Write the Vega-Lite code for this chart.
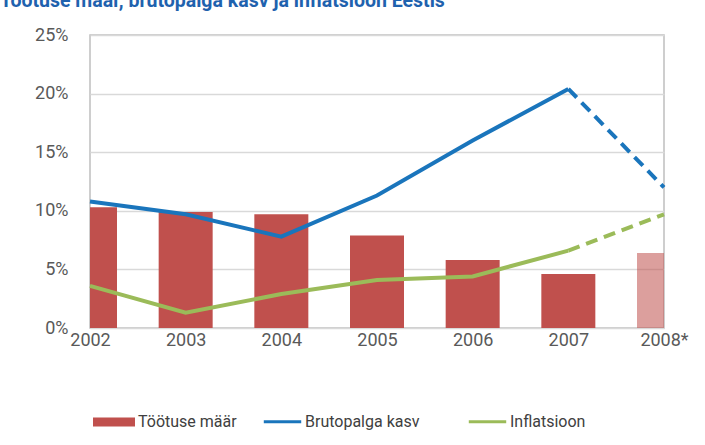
{
  "$schema": "https://vega.github.io/schema/vega-lite/v6.json",
  "autosize": {"type": "none"},
  "width": 574,
  "height": 293,
  "padding": {"left": 90, "top": 35, "right": 41, "bottom": 117},
  "background": "white",
  "title": {
    "text": "Töötuse määr, brutopalga kasv ja inflatsioon Eestis",
    "anchor": "start",
    "frame": "group",
    "dx": -90,
    "dy": 20,
    "offset": 20,
    "baseline": "alphabetic",
    "font": "Roboto",
    "fontSize": 19.5,
    "fontWeight": "bold",
    "color": "#1F62AE"
  },
  "data": {
    "values": [
      {"aasta": "2002", "naitaja": "Töötuse määr", "vaartus": 0.103},
      {"aasta": "2003", "naitaja": "Töötuse määr", "vaartus": 0.099},
      {"aasta": "2004", "naitaja": "Töötuse määr", "vaartus": 0.097},
      {"aasta": "2005", "naitaja": "Töötuse määr", "vaartus": 0.079},
      {"aasta": "2006", "naitaja": "Töötuse määr", "vaartus": 0.058},
      {"aasta": "2007", "naitaja": "Töötuse määr", "vaartus": 0.046},
      {"aasta": "2008*", "naitaja": "Töötuse määr", "vaartus": 0.064},
      {"aasta": "2002", "naitaja": "Brutopalga kasv", "vaartus": 0.108},
      {"aasta": "2003", "naitaja": "Brutopalga kasv", "vaartus": 0.097},
      {"aasta": "2004", "naitaja": "Brutopalga kasv", "vaartus": 0.078},
      {"aasta": "2005", "naitaja": "Brutopalga kasv", "vaartus": 0.113},
      {"aasta": "2006", "naitaja": "Brutopalga kasv", "vaartus": 0.16},
      {"aasta": "2007", "naitaja": "Brutopalga kasv", "vaartus": 0.204},
      {"aasta": "2008*", "naitaja": "Brutopalga kasv", "vaartus": 0.12},
      {"aasta": "2002", "naitaja": "Inflatsioon", "vaartus": 0.036},
      {"aasta": "2003", "naitaja": "Inflatsioon", "vaartus": 0.013},
      {"aasta": "2004", "naitaja": "Inflatsioon", "vaartus": 0.029},
      {"aasta": "2005", "naitaja": "Inflatsioon", "vaartus": 0.041},
      {"aasta": "2006", "naitaja": "Inflatsioon", "vaartus": 0.044},
      {"aasta": "2007", "naitaja": "Inflatsioon", "vaartus": 0.066},
      {"aasta": "2008*", "naitaja": "Inflatsioon", "vaartus": 0.097}
    ]
  },
  "encoding": {
    "x": {
      "field": "aasta",
      "type": "ordinal",
      "sort": ["2002", "2003", "2004", "2005", "2006", "2007", "2008*"],
      "scale": {"type": "point", "padding": 0},
      "axis": {
        "title": null,
        "labelAngle": 0,
        "ticks": false,
        "domain": false,
        "grid": false,
        "labelPadding": 3,
        "labelFont": "Roboto",
        "labelFontSize": 18,
        "labelColor": "#595959"
      }
    },
    "y": {
      "field": "vaartus",
      "type": "quantitative",
      "scale": {"domain": [0, 0.25], "nice": false},
      "axis": {
        "title": null,
        "values": [0, 0.05, 0.1, 0.15, 0.2, 0.25],
        "format": ".0%",
        "ticks": false,
        "domain": false,
        "grid": true,
        "gridColor": "#D9D9D9",
        "gridWidth": 1.5,
        "labelPadding": 22,
        "labelFont": "Roboto",
        "labelFontSize": 18,
        "labelColor": "#595959"
      }
    }
  },
  "layer": [
    {
      "transform": [{"filter": "datum.naitaja == 'Töötuse määr'"}],
      "mark": {"type": "bar", "width": 54, "clip": true},
      "encoding": {
        "fill": {
          "field": "naitaja",
          "type": "nominal",
          "scale": {"domain": ["Töötuse määr"], "range": ["#C0504D"]},
          "legend": {
            "title": null,
            "orient": "none",
            "legendX": 3,
            "legendY": 366,
            "symbolType": "M-1,-0.22H1V0.22H-1Z",
            "symbolSize": 1764,
            "symbolStrokeWidth": 0,
            "labelFont": "Roboto",
            "labelFontSize": 16,
            "labelColor": "#404040",
            "labelOffset": 3
          }
        },
        "opacity": {
          "condition": {"test": "datum.aasta == '2008*'", "value": 0.55},
          "value": 1
        }
      }
    },
    {
      "transform": [
        {"filter": "datum.naitaja != 'Töötuse määr' && datum.aasta != '2008*'"}
      ],
      "mark": {"type": "line", "strokeWidth": 4},
      "encoding": {
        "stroke": {
          "field": "naitaja",
          "type": "nominal",
          "scale": {
            "domain": ["Brutopalga kasv", "Inflatsioon"],
            "range": ["#1A75BC", "#9BBB59"]
          },
          "legend": {
            "title": null,
            "orient": "none",
            "direction": "horizontal",
            "legendX": 172,
            "legendY": 366,
            "symbolType": "stroke",
            "symbolSize": 1400,
            "symbolStrokeWidth": 3,
            "columnPadding": 42,
            "labelFont": "Roboto",
            "labelFontSize": 16,
            "labelColor": "#404040",
            "labelOffset": 2
          }
        }
      }
    },
    {
      "transform": [
        {"filter": "datum.naitaja != 'Töötuse määr' && (datum.aasta == '2007' || datum.aasta == '2008*')"}
      ],
      "mark": {"type": "line", "strokeWidth": 4, "strokeDash": [12, 7]},
      "encoding": {
        "stroke": {"field": "naitaja", "type": "nominal"}
      }
    }
  ],
  "config": {
    "view": {"stroke": "#BFBFBF", "strokeWidth": 1.5}
  }
}
